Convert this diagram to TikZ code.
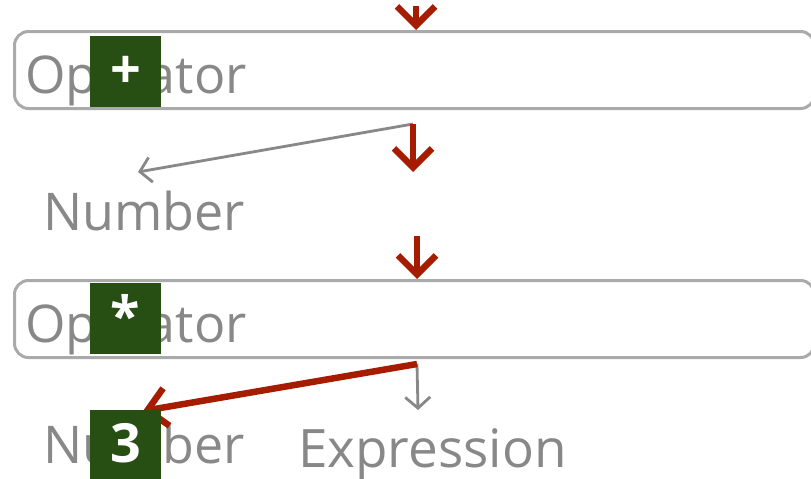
\documentclass[tikz,border=0pt]{standalone}
\usepackage{fontspec}
\setmainfont{Open Sans}
\usetikzlibrary{arrows.meta}

\definecolor{boxgray}{HTML}{AAAAAA}
\definecolor{txtgray}{HTML}{888888}
\definecolor{hotred}{HTML}{A61C00}
\definecolor{tokgreen}{HTML}{274E13}

\tikzset{
  slot/.style={draw=boxgray, line width=3pt, rounded corners=14pt,
    minimum width=800pt, minimum height=77pt, inner sep=0pt},
  word/.style={text=txtgray, inner sep=0pt, anchor=base west,
    font=\fontsize{52}{60}\selectfont},
  token/.style={fill=tokgreen, text=white, minimum size=71pt, inner sep=0pt,
    text height=38pt, text depth=4pt, font=\fontsize{54}{60}\selectfont\bfseries},
  hot/.style={draw=hotred, line width=6.5pt,
    -{Straight Barb[length=19pt,width=38pt]}},
  link/.style={draw=txtgray, line width=2.8pt,
    -{Straight Barb[length=11pt,width=25pt]}}
}

\begin{document}
\begin{tikzpicture}[x=1pt, y=-1pt]
    \useasboundingbox (0,0) rectangle (811,479);

    % the two operator slots
    \node[slot] (op1) at (414.5,70) {};
    \node[slot] (op2) at (414.5,319) {};

    \node[word] (opname1) at (25,93) {Operator};
    \node[word] (opname2) at (25,342) {Operator};
    \node[word] (num1) at (43,230) {Number};
    \node[word] (num2) at (43,463) {Number};
    \node[word, font=\fontsize{53}{60}\selectfont] (expr) at (298,467) {Expression};

    % where the pointers start and stop
    \coordinate (in1) at (416,6);
    \coordinate (fork1) at (413,124);
    \coordinate (tip1) at (138,172);
    \coordinate (down1) at (413,172);
    \coordinate (in2) at (417,236);
    \coordinate (fork2) at (417,364);
    \coordinate (tip2) at (143,411);
    \coordinate (down2) at (418,410);

    \draw[link] (fork1) -- (tip1);
    \draw[link] (fork2) -- (down2);

    \draw[hot] (in1) -- (in1 |- op1.north);
    \draw[hot] (fork1) -- (down1);
    \draw[hot] (in2) -- (in2 |- op2.north);
    \draw[hot] (fork2) -- (tip2);

    % tokens on top
    \node[token] (plus) at (125.5,71.5) {+};
    \node[token] (times) at (125.5,318.5) {*};
    \node[token] (three) at (125.5,445.5) {3};
\end{tikzpicture}
\end{document}
